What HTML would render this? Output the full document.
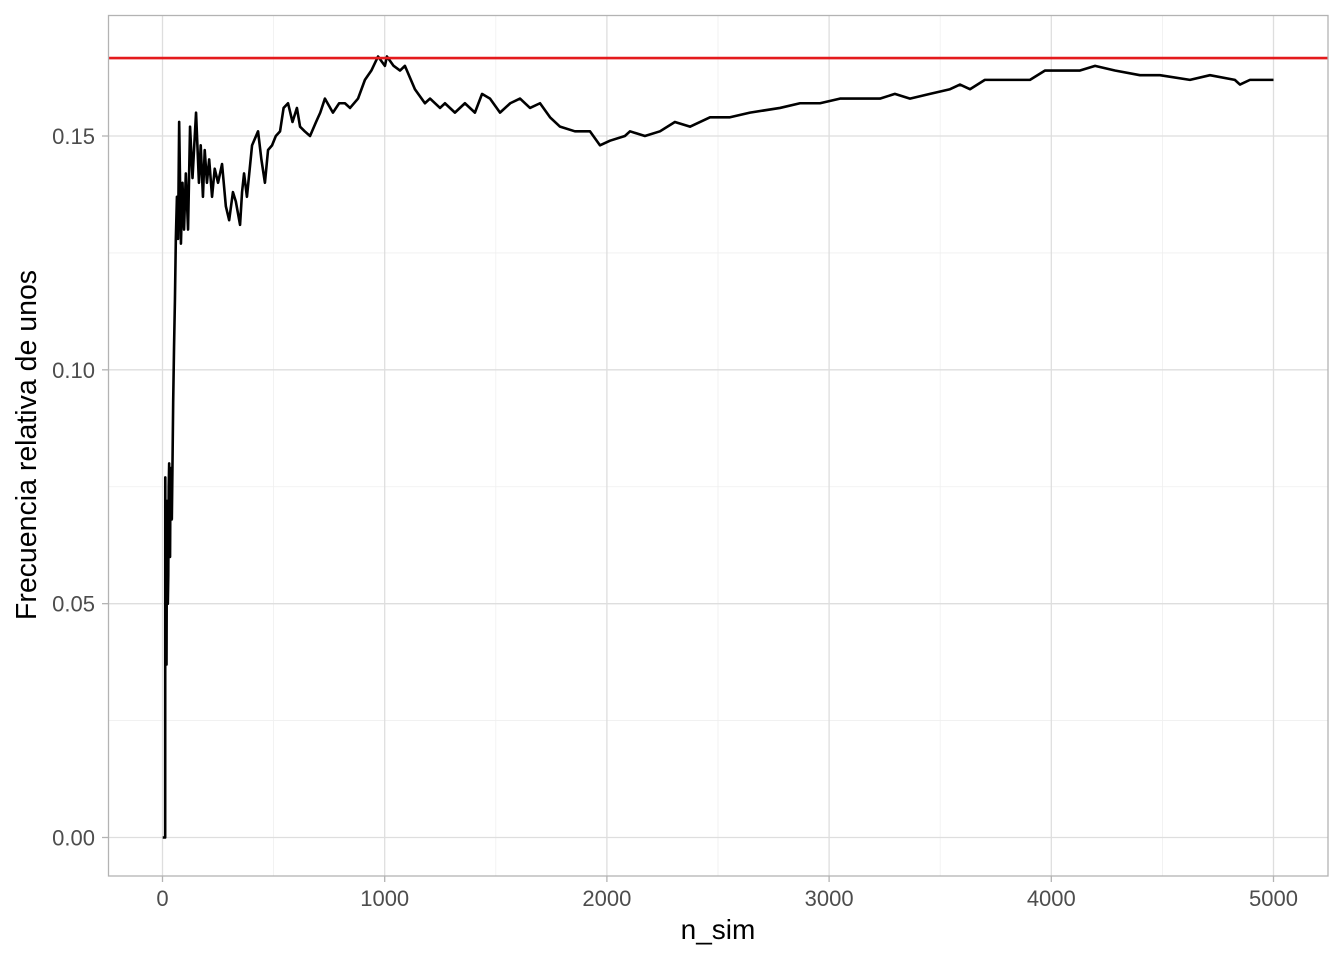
<!DOCTYPE html>
<html><head><meta charset="utf-8"><style>
body{margin:0;background:#fff}
svg text{font-family:"Liberation Sans",sans-serif}
</style></head><body>
<svg id="chart" width="1344" height="960" xmlns="http://www.w3.org/2000/svg">
<rect width="1344" height="960" fill="#fff"/>
<g id="grid"></g>
<g id="series"></g>
<rect x="108.5" y="15.5" width="1219.5" height="860.5" fill="none" stroke="#b3b3b3" stroke-width="1.3"/>
<g id="axes"></g>
<text x="718" y="939" font-size="28" text-anchor="middle" fill="#000">n_sim</text>
<text transform="translate(36,445) rotate(-90)" font-size="28.5" text-anchor="middle" fill="#000">Frecuencia relativa de unos</text>
</svg>
<script>
const xTicks=[0,1000,2000,3000,4000,5000];
const yTicks=[0,0.05,0.10,0.15];
const yTickLabels=["0.00","0.05","0.10","0.15"];
const refValue=1/6;
const nSim=[1,12,12.5,14,16,18,20,22,24,26,28,30,32,34,36,38,40,42,45,48,52,56,60,65,70,75,83,90,97,105,115,124,135,151,164,172,182,190,200,210,223,235,250,268,285,300,317,330,349,358,367,380,403,430,445,461,475,493,510,529,545,565,585,605,619,640,664,691,710,731,767,795,821,844,880,911,940,970,1001,1010,1040,1069,1091,1136,1181,1204,1249,1271,1316,1361,1406,1438,1474,1519,1565,1609,1654,1699,1744,1789,1856,1924,1969,2014,2081,2104,2171,2239,2306,2374,2464,2554,2644,2779,2869,2959,3049,3139,3229,3296,3364,3454,3544,3589,3634,3701,3814,3904,3972,4039,4129,4197,4286,4399,4489,4624,4714,4826,4849,4894,5000];
const freq=[0,0,0.077,0.04,0.07,0.037,0.068,0.072,0.05,0.056,0.075,0.08,0.062,0.06,0.078,0.079,0.07,0.068,0.08,0.093,0.105,0.115,0.128,0.137,0.128,0.153,0.127,0.14,0.13,0.142,0.13,0.152,0.141,0.155,0.14,0.148,0.137,0.147,0.14,0.145,0.137,0.143,0.14,0.144,0.135,0.132,0.138,0.136,0.131,0.138,0.142,0.137,0.148,0.151,0.145,0.14,0.147,0.148,0.15,0.151,0.156,0.157,0.153,0.156,0.152,0.151,0.15,0.153,0.155,0.158,0.155,0.157,0.157,0.156,0.158,0.162,0.164,0.167,0.165,0.167,0.165,0.164,0.165,0.16,0.157,0.158,0.156,0.157,0.155,0.157,0.155,0.159,0.158,0.155,0.157,0.158,0.156,0.157,0.154,0.152,0.151,0.151,0.148,0.149,0.150,0.151,0.150,0.151,0.153,0.152,0.154,0.154,0.155,0.156,0.157,0.157,0.158,0.158,0.158,0.159,0.158,0.159,0.160,0.161,0.160,0.162,0.162,0.162,0.164,0.164,0.164,0.165,0.164,0.163,0.163,0.162,0.163,0.162,0.161,0.162,0.162];
const X0=162.5, XS=(1273.5-162.5)/5000, Y0=837.5, YS=(837.5-136)/0.15;
const xs=v=>X0+v*XS, ys=v=>Y0-v*YS;
const NS="http://www.w3.org/2000/svg";
const grid=document.getElementById('grid'), axes=document.getElementById('axes'), series=document.getElementById('series');
function ln(p,x1,y1,x2,y2,c,w){const l=document.createElementNS(NS,'line');l.setAttribute('x1',x1);l.setAttribute('y1',y1);l.setAttribute('x2',x2);l.setAttribute('y2',y2);l.setAttribute('stroke',c);l.setAttribute('stroke-width',w);p.appendChild(l);return l;}
for(let i=0;i<xTicks.length-1;i++){const m=(xTicks[i]+xTicks[i+1])/2;
const l=ln(grid,xs(m),15,xs(m),876,'#efefef',0.8);

}
for(let i=0;i<yTicks.length-1;i++){const m=(yTicks[i]+yTicks[i+1])/2;
const l=ln(grid,108,ys(m),1328,ys(m),'#efefef',0.8);

}
xTicks.forEach(t=>{const l=ln(grid,xs(t),15,xs(t),876,'#dedede',1.3);


const k=ln(axes,xs(t),876,xs(t),882,'#b3b3b3',1.3);


const tx=document.createElementNS(NS,'text');tx.setAttribute('x',xs(t));tx.setAttribute('y',906);tx.setAttribute('font-size','22');tx.setAttribute('fill','#4d4d4d');tx.setAttribute('text-anchor','middle');tx.textContent=t;


axes.appendChild(tx);});
yTicks.forEach((t,i)=>{const l=ln(grid,108,ys(t),1328,ys(t),'#dedede',1.3);


const k=ln(axes,102,ys(t),108,ys(t),'#b3b3b3',1.3);


const tx=document.createElementNS(NS,'text');tx.setAttribute('x',95);tx.setAttribute('y',ys(t)+8);tx.setAttribute('font-size','22');tx.setAttribute('fill','#4d4d4d');tx.setAttribute('text-anchor','end');tx.textContent=yTickLabels[i];


axes.appendChild(tx);});
const p=document.createElementNS(NS,'polyline');
p.setAttribute('points',nSim.map((n,i)=>xs(n).toFixed(2)+','+ys(freq[i]).toFixed(2)).join(' '));
p.setAttribute('fill','none');p.setAttribute('stroke','#000');p.setAttribute('stroke-width','2.6');p.setAttribute('stroke-linejoin','round');


series.appendChild(p);
const r=ln(series,108,ys(refValue),1328,ys(refValue),'#e41a1c',2.6);


</script>
</body></html>
